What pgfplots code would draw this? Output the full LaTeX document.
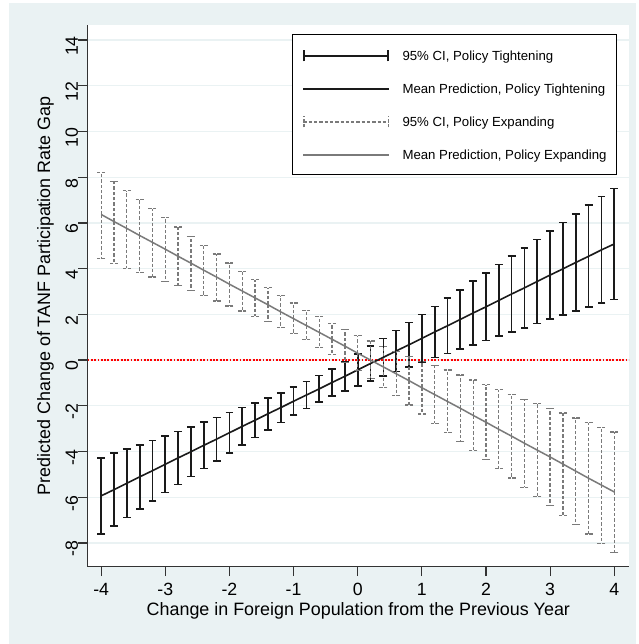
\documentclass[border=0pt]{standalone}
\usepackage{pgfplots}
\pgfplotsset{compat=1.18}
\usepackage{pgfplotstable}
\usepackage{fontspec}
\setmainfont{Liberation Sans}

\definecolor{bgblue}{HTML}{EAF2F3}
\definecolor{gridc}{HTML}{EAF2F3}
\definecolor{expgray}{HTML}{7A7A7A}
\definecolor{tightblk}{HTML}{1A1A1A}

% Predicted gap with 95% CI, policy tightening
\pgfplotstableread{
x lo m hi
-4.0 -7.61 -5.94 -4.27
-3.8 -7.26 -5.67 -4.08
-3.6 -6.89 -5.39 -3.89
-3.4 -6.51 -5.11 -3.71
-3.2 -6.16 -4.84 -3.52
-3.0 -5.80 -4.56 -3.32
-2.8 -5.44 -4.28 -3.12
-2.6 -5.10 -4.01 -2.92
-2.4 -4.75 -3.73 -2.71
-2.2 -4.41 -3.46 -2.51
-2.0 -4.06 -3.18 -2.30
-1.8 -3.72 -2.90 -2.08
-1.6 -3.39 -2.63 -1.87
-1.4 -3.05 -2.35 -1.65
-1.2 -2.73 -2.08 -1.43
-1.0 -2.41 -1.80 -1.19
-0.8 -2.12 -1.53 -0.94
-0.6 -1.84 -1.26 -0.68
-0.4 -1.58 -0.98 -0.38
-0.2 -1.36 -0.71 -0.06
0.0 -1.13 -0.43 0.27
0.2 -0.91 -0.15 0.61
0.4 -0.71 0.12 0.95
0.6 -0.50 0.40 1.30
0.8 -0.30 0.67 1.64
1.0 -0.09 0.95 1.99
1.2 0.11 1.23 2.35
1.4 0.29 1.50 2.71
1.6 0.48 1.78 3.08
1.8 0.67 2.06 3.45
2.0 0.85 2.33 3.81
2.2 1.04 2.61 4.18
2.4 1.23 2.89 4.55
2.6 1.41 3.16 4.91
2.8 1.60 3.44 5.28
3.0 1.79 3.72 5.65
3.2 1.96 3.99 6.02
3.4 2.14 4.27 6.40
3.6 2.31 4.54 6.77
3.8 2.49 4.82 7.15
4.0 2.65 5.08 7.51
}\tight

% Predicted gap with 95% CI, policy expanding
\pgfplotstableread{
x lo m hi
-4.0 4.43 6.37 8.22
-3.8 4.23 6.06 7.82
-3.6 4.02 5.76 7.41
-3.4 3.83 5.45 7.01
-3.2 3.63 5.15 6.62
-3.0 3.44 4.85 6.23
-2.8 3.25 4.54 5.82
-2.6 3.04 4.24 5.42
-2.4 2.82 3.93 5.02
-2.2 2.59 3.63 4.64
-2.0 2.37 3.32 4.25
-1.8 2.15 3.02 3.88
-1.6 1.92 2.72 3.52
-1.4 1.69 2.42 3.16
-1.2 1.42 2.11 2.82
-1.0 1.15 1.81 2.50
-0.8 0.89 1.51 2.17
-0.6 0.55 1.21 1.90
-0.4 0.23 0.91 1.60
-0.2 -0.10 0.61 1.34
0.0 -0.46 0.30 1.07
0.2 -0.80 0.00 0.84
0.4 -1.20 -0.30 0.60
0.6 -1.56 -0.60 0.38
0.8 -1.96 -0.90 0.17
1.0 -2.36 -1.21 -0.06
1.2 -2.77 -1.51 -0.23
1.4 -3.16 -1.81 -0.44
1.6 -3.57 -2.11 -0.65
1.8 -3.96 -2.42 -0.87
2.0 -4.36 -2.72 -1.08
2.2 -4.75 -3.03 -1.30
2.4 -5.16 -3.33 -1.52
2.6 -5.56 -3.64 -1.71
2.8 -5.96 -3.94 -1.91
3.0 -6.37 -4.24 -2.11
3.2 -6.79 -4.55 -2.32
3.4 -7.20 -4.86 -2.53
3.6 -7.61 -5.17 -2.74
3.8 -8.02 -5.47 -2.95
4.0 -8.43 -5.77 -3.15
}\expand

\begin{document}
\begin{tikzpicture}[x=1bp,y=1bp]
\useasboundingbox (-87.7,-77.3) rectangle (551.3,566.7);
\fill[white] (-87.7,-77.3) rectangle (551.3,566.7);
\fill[bgblue] (-78.7,-77.3) rectangle (548.3,563.7);
\begin{axis}[
  at={(0,0)}, anchor=south west,
  scale only axis, width=541.3bp, height=541.7bp,
  xmin=-4.21, xmax=4.23, ymin=-9.04, ymax=14.66,
  axis background/.style={fill=white},
  axis x line*=bottom, axis y line*=left,
  axis line style={-, black!80, line width=1.2bp},
  tick align=outside, major tick length=9.5bp,
  tick style={black!80, line width=1.2bp},
  xtick={-4,-3,-2,-1,0,1,2,3,4},
  xticklabels={-4,-3,-2,-1,0,1,2,3,4},
  ytick={-8,-6,-4,-2,0,2,4,6,8,10,12,14},
  yticklabels={-8,-6,-4,-2,0,2,4,6,8,10,12,14},
  tick label style={font=\fontsize{17.7bp}{20bp}\selectfont},
  yticklabel style={rotate=90, anchor=south, inner sep=0pt, xshift=-6bp},
  xticklabel style={anchor=north, inner sep=0pt, yshift=-7bp},
  ymajorgrids, grid style={gridc, line width=1.3bp},
  label style={font=\fontsize{17.9bp}{20bp}\selectfont},
  xlabel={Change in Foreign Population from the Previous Year},
  ylabel={Predicted Change of TANF Participation Rate Gap},
  xlabel style={at={(axis description cs:0.5,-0.0892)}, anchor=base},
  ylabel style={at={(axis description cs:-0.0696,0.5)}, anchor=base},
  legend cell align=left,
  legend style={at={(axis description cs:0.3774,0.9834)}, anchor=north west,
    draw=black, line width=1.3bp, fill=white,
    font=\fontsize{13.2bp}{15bp}\selectfont,
    inner xsep=10bp, inner ysep=15bp, row sep=22bp, column sep=12.7bp,
    nodes={inner sep=0pt, text height=9.5bp, text depth=0bp, anchor=west}},
]
% zero reference line
\addplot[forget plot, red, line width=1.6bp, dash pattern=on 1.8bp off 1.5bp]
  coordinates {(-4.21,0) (4.23,0)};

\addplot[draw=none, mark=none,
  legend image code/.code={
    \draw[tightblk, line width=1.6bp] (0bp,0bp) -- (85.6bp,0bp);
    \draw[tightblk, line width=1.6bp] (0.8bp,-5.5bp) -- (0.8bp,5.5bp);
    \draw[tightblk, line width=1.6bp] (84.8bp,-5.5bp) -- (84.8bp,5.5bp);},
  error bars/.cd, y dir=both, y explicit,
  error bar style={draw=tightblk, line width=1.7bp, solid},
  error mark options={draw=tightblk, line width=1.7bp, mark size=3.9bp, solid, rotate=90}]
  table[x=x, y=m, y error plus expr=\thisrow{hi}-\thisrow{m},
        y error minus expr=\thisrow{m}-\thisrow{lo}] {\tight};
\addlegendentry{95\% CI, Policy Tightening}

\addplot[tightblk, line width=1.6bp, mark=none,
  legend image code/.code={
    \draw[tightblk, line width=1.6bp] (0bp,0bp) -- (85.6bp,0bp);}]
  table[x=x, y=m] {\tight};
\addlegendentry{Mean Prediction, Policy Tightening}

\addplot[draw=none, mark=none,
  legend image code/.code={
    \draw[expgray, line width=1.3bp, dash pattern=on 3.3bp off 2bp] (0bp,0bp) -- (85.6bp,0bp);
    \draw[expgray, line width=1.3bp, dash pattern=on 3.3bp off 2bp] (0.7bp,-5.5bp) -- (0.7bp,5.5bp);
    \draw[expgray, line width=1.3bp, dash pattern=on 3.3bp off 2bp] (84.9bp,-5.5bp) -- (84.9bp,5.5bp);},
  error bars/.cd, y dir=both, y explicit,
  error bar style={draw=expgray, line width=1.3bp, dash pattern=on 3.3bp off 2bp},
  error mark options={draw=expgray, line width=1.3bp, mark size=4bp, dash pattern=on 3.3bp off 1.4bp, rotate=90}]
  table[x=x, y=m, y error plus expr=\thisrow{hi}-\thisrow{m},
        y error minus expr=\thisrow{m}-\thisrow{lo}] {\expand};
\addlegendentry{95\% CI, Policy Expanding}

\addplot[expgray, line width=1.5bp, mark=none,
  legend image code/.code={
    \draw[expgray, line width=1.5bp] (0bp,0bp) -- (85.6bp,0bp);}]
  table[x=x, y=m] {\expand};
\addlegendentry{Mean Prediction, Policy Expanding}
\end{axis}
\end{tikzpicture}
\end{document}
